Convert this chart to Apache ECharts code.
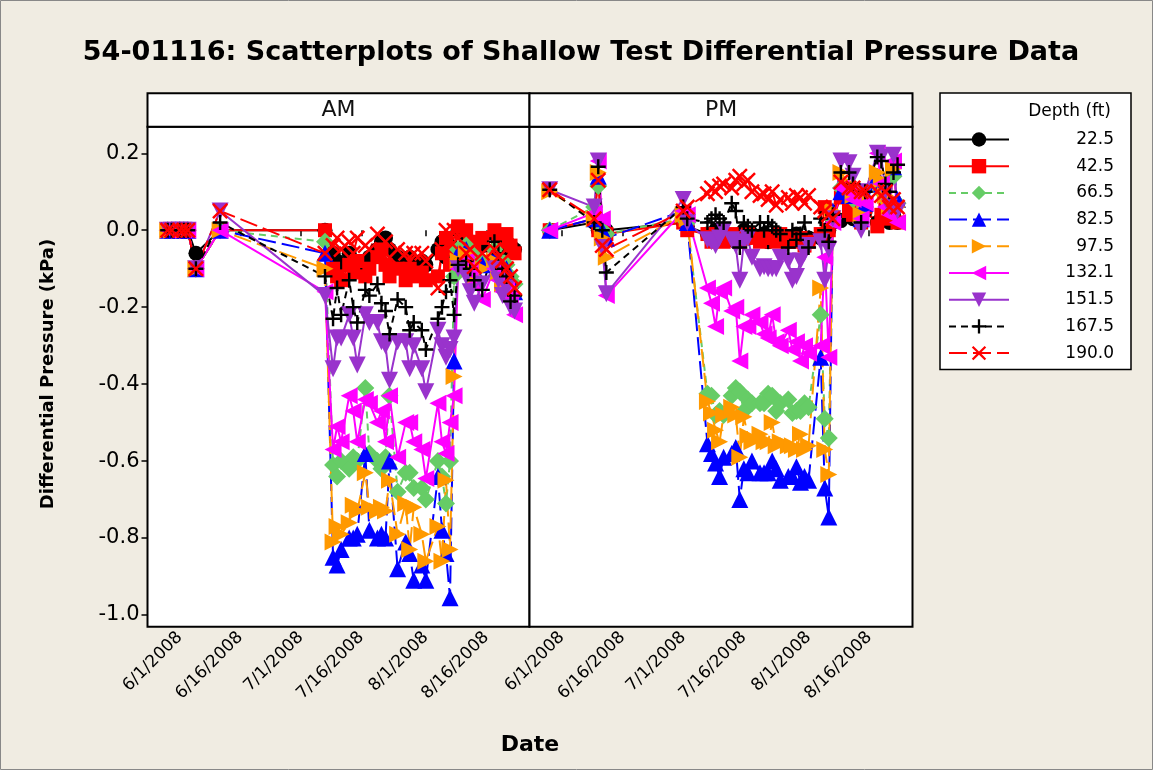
<!DOCTYPE html>
<html>
<head>
<meta charset="utf-8">
<title>54-01116 Scatterplots</title>
<script src="https://cdn.jsdelivr.net/npm/echarts@6/dist/echarts.min.js"></script>
<style>
  html, body { margin: 0; padding: 0; background: #f0ece2; }
  #chart { width: 1153px; height: 770px; }
</style>
</head>
<body>
<div id="chart"></div>
<script>
// measurement dates per session
const amDates = ['2008-05-29','2008-05-30','2008-06-01','2008-06-02','2008-06-03','2008-06-05','2008-06-11',
  '2008-07-07','2008-07-09','2008-07-10','2008-07-11','2008-07-13','2008-07-14','2008-07-15','2008-07-17','2008-07-18',
  '2008-07-20','2008-07-21','2008-07-22','2008-07-23','2008-07-25','2008-07-27','2008-07-28','2008-07-29','2008-07-31',
  '2008-08-01','2008-08-04','2008-08-05','2008-08-06','2008-08-07','2008-08-08','2008-08-09','2008-08-11','2008-08-12',
  '2008-08-13','2008-08-15','2008-08-18','2008-08-19','2008-08-20','2008-08-21','2008-08-22','2008-08-23']
const pmDates = ['2008-05-29','2008-06-09','2008-06-10','2008-06-11','2008-06-12','2008-07-01','2008-07-02',
  '2008-07-07','2008-07-08','2008-07-09','2008-07-10','2008-07-11','2008-07-13','2008-07-14','2008-07-15','2008-07-16',
  '2008-07-17','2008-07-18','2008-07-20','2008-07-21','2008-07-22','2008-07-23','2008-07-24','2008-07-25','2008-07-27',
  '2008-07-28','2008-07-29','2008-07-30','2008-07-31','2008-08-01','2008-08-04','2008-08-05','2008-08-06','2008-08-07',
  '2008-08-09','2008-08-11','2008-08-12','2008-08-14','2008-08-15','2008-08-18','2008-08-19','2008-08-20','2008-08-21',
  '2008-08-22','2008-08-23']

const tickDates = ['2008-06-01','2008-06-16','2008-07-01','2008-07-16','2008-08-01','2008-08-16']
const yTicks = [-1.0, -0.8, -0.6, -0.4, -0.2, 0.0, 0.2]
const depths = ['22.5','42.5','66.5','82.5','97.5','132.1','151.5','167.5','190.0']

// AM differential pressure (kPa)
const am225 = [0,0,0,0,0,-0.06,0,0,-0.06,-0.08,-0.09,-0.06,-0.08,-0.1,-0.09,-0.07,-0.05,-0.03,-0.02,-0.05,-0.07,-0.08,-0.07,-0.09,-0.08,-0.09,-0.05,-0.03,-0.07,-0.04,-0.06,0,-0.02,-0.03,-0.05,-0.04,-0.01,-0.03,-0.05,-0.03,-0.04,-0.05]
const am425 = [0,0,0,0,0,-0.1,0,0,-0.1,-0.12,-0.13,-0.09,-0.11,-0.08,-0.12,-0.1,-0.07,-0.05,-0.09,-0.12,-0.1,-0.13,-0.1,-0.12,-0.11,-0.13,-0.12,-0.06,-0.02,-0.09,-0.05,0.01,0,-0.03,-0.04,-0.02,0,-0.02,-0.03,-0.01,-0.04,-0.06]
const am665 = [0,0,0,0,0,-0.1,0,-0.03,-0.61,-0.64,-0.6,-0.62,-0.59,-0.6,-0.41,-0.58,-0.6,-0.62,-0.59,-0.43,-0.68,-0.63,-0.63,-0.67,-0.67,-0.7,-0.6,-0.64,-0.71,-0.6,-0.12,-0.05,-0.04,-0.09,-0.06,-0.08,-0.05,-0.07,-0.1,-0.09,-0.12,-0.14]
const am825 = [0,0,0,0,0,-0.1,0,-0.06,-0.85,-0.87,-0.83,-0.8,-0.8,-0.79,-0.58,-0.78,-0.8,-0.79,-0.8,-0.6,-0.88,-0.81,-0.84,-0.91,-0.87,-0.91,-0.64,-0.78,-0.84,-0.955,-0.34,-0.06,-0.05,-0.08,-0.1,-0.09,-0.07,-0.1,-0.12,-0.1,-0.13,-0.16]
const am975 = [0,0,0,0,0,-0.1,0,-0.1,-0.81,-0.77,-0.79,-0.76,-0.715,-0.73,-0.63,-0.72,-0.73,-0.72,-0.73,-0.65,-0.79,-0.71,-0.83,-0.72,-0.79,-0.86,-0.77,-0.86,-0.65,-0.83,-0.38,-0.08,-0.06,-0.1,-0.12,-0.1,-0.08,-0.11,-0.14,-0.12,-0.15,-0.17]
const am1321 = [0,0,0,0,0,-0.1,0,-0.16,-0.57,-0.51,-0.55,-0.43,-0.47,-0.55,-0.44,-0.45,-0.5,-0.47,-0.55,-0.43,-0.59,-0.5,-0.5,-0.55,-0.57,-0.645,-0.45,-0.55,-0.58,-0.5,-0.43,-0.1,-0.08,-0.11,-0.14,-0.18,-0.1,-0.13,-0.16,-0.15,-0.18,-0.22]
const am1515 = [0,0,0,0,0,-0.1,0.05,-0.17,-0.36,-0.28,-0.28,-0.22,-0.28,-0.35,-0.22,-0.24,-0.24,-0.29,-0.3,-0.39,-0.29,-0.29,-0.36,-0.3,-0.36,-0.42,-0.26,-0.3,-0.33,-0.31,-0.28,-0.1,-0.12,-0.16,-0.19,-0.14,-0.1,-0.13,-0.17,-0.15,-0.2,-0.21]
const am1675 = [0,0,0,0,0,-0.1,0.02,-0.12,-0.23,-0.15,-0.22,-0.13,-0.2,-0.24,-0.155,-0.17,-0.14,-0.19,-0.21,-0.27,-0.18,-0.2,-0.26,-0.24,-0.26,-0.31,-0.23,-0.2,-0.16,-0.13,-0.22,-0.09,-0.08,-0.1,-0.13,-0.155,-0.03,-0.06,-0.1,-0.12,-0.185,-0.17]
const am1900 = [0,0,0,0,0,-0.1,0.05,-0.06,-0.04,-0.02,-0.05,-0.03,-0.06,-0.02,-0.04,-0.05,-0.01,-0.06,-0.03,-0.07,-0.05,-0.06,-0.08,-0.06,-0.06,-0.08,-0.15,-0.05,0,-0.03,0,-0.02,-0.06,-0.05,-0.095,-0.06,-0.05,-0.07,-0.08,-0.1,-0.12,-0.15]

// PM differential pressure (kPa)
const pm225 = [0,0.02,0,0,0,0.02,0.01,-0.01,-0.02,0,-0.02,-0.01,-0.02,-0.03,-0.01,0,-0.02,-0.01,-0.02,-0.01,-0.03,-0.02,-0.01,-0.02,-0.03,-0.02,-0.01,-0.02,-0.03,-0.02,-0.02,-0.01,0,0.02,0.025,0.04,0.03,0.02,0.05,0.02,0.03,0.05,0.02,0.04,0.02]
const pm425 = [0,0.03,0,0,-0.01,0.02,0,-0.01,-0.03,-0.02,-0.02,-0.03,-0.01,-0.02,-0.03,-0.02,-0.01,-0.02,-0.03,-0.02,-0.02,-0.02,-0.03,-0.01,-0.03,-0.02,-0.03,-0.02,-0.04,-0.03,-0.01,0.06,0,0.03,0.085,0.05,0.04,0.02,0.06,0.01,0.04,0.06,0.03,0.07,0.02]
const pm665 = [0,0.06,0.115,0,-0.01,0.03,0.02,-0.425,-0.43,-0.48,-0.47,-0.48,-0.43,-0.41,-0.42,-0.47,-0.44,-0.45,-0.45,-0.45,-0.425,-0.43,-0.47,-0.45,-0.44,-0.475,-0.47,-0.47,-0.45,-0.46,-0.22,-0.49,-0.54,0.03,0.11,0.105,0.08,0.02,0.06,0.12,0.1,0.08,0.06,0.14,0.07]
const pm825 = [0,0.03,0.14,0,-0.02,0.05,0.02,-0.555,-0.58,-0.605,-0.64,-0.59,-0.58,-0.565,-0.7,-0.62,-0.63,-0.6,-0.63,-0.63,-0.63,-0.6,-0.62,-0.65,-0.64,-0.64,-0.615,-0.655,-0.64,-0.65,-0.33,-0.67,-0.745,0.05,0.1,0.09,0.1,0.03,0.07,0.14,0.12,0.1,0.07,0.165,0.08]
const pm975 = [0.1,0.03,0.15,-0.02,-0.07,0.04,0.03,-0.445,-0.475,-0.52,-0.55,-0.48,-0.46,-0.48,-0.59,-0.485,-0.535,-0.55,-0.53,-0.55,-0.55,-0.5,-0.56,-0.55,-0.56,-0.56,-0.57,-0.53,-0.57,-0.56,-0.15,-0.57,-0.635,0.05,0.15,0.12,0.09,0.04,0.08,0.15,0.13,0.09,0.06,0.16,0.06]
const pm1321 = [0,0.045,0.18,0.03,-0.17,0.05,0.04,-0.15,-0.19,-0.25,-0.16,-0.15,-0.21,-0.2,-0.34,-0.25,-0.25,-0.22,-0.24,-0.27,-0.28,-0.22,-0.29,-0.3,-0.26,-0.31,-0.29,-0.34,-0.3,-0.32,-0.3,-0.07,-0.33,0.02,0.11,0.1,0.08,0.03,0.07,0.2,0.12,0.06,0.04,0.18,0.02]
const pm1515 = [0.105,0.06,0.18,-0.045,-0.165,0.08,0.02,-0.025,-0.03,-0.04,-0.02,0,-0.025,-0.04,-0.13,-0.03,-0.02,-0.07,-0.1,-0.095,-0.1,-0.1,-0.1,-0.07,-0.08,-0.13,-0.12,-0.08,-0.06,-0.04,-0.03,-0.13,-0.05,0.03,0.18,0.175,0.14,0,0.1,0.2,0.19,0.1,0.06,0.195,0.05]
const pm1675 = [0.105,0.02,0.165,0,-0.11,0.06,0.03,0.02,0.03,0.04,0.03,0.02,0.07,0.05,-0.045,0.02,0.01,0,0.02,0,0.02,0.01,0,-0.01,-0.045,0,-0.025,-0.01,0.02,-0.045,0.03,0,-0.03,0.04,0.15,0.15,0.12,0.02,0.1,0.19,0.18,0.12,0.1,0.15,0.17]
const pm1900 = [0.105,0.03,0.13,-0.04,-0.05,0.05,0.06,0.095,0.11,0.1,0.115,0.12,0.11,0.13,0.14,0.12,0.13,0.1,0.09,0.095,0.08,0.1,0.065,0.08,0.085,0.07,0.09,0.085,0.07,0.09,0.06,0.05,0.04,0.03,0.125,0.11,0.11,0.1,0.1,0.1,0.09,0.1,0.06,0.08,0.06]

const amValues = [am225, am425, am665, am825, am975, am1321, am1515, am1675, am1900]
const pmValues = [pm225, pm425, pm665, pm825, pm975, pm1321, pm1515, pm1675, pm1900]

const plusPath = 'path://M4.2,0H5.8V4.2H10V5.8H5.8V10H4.2V5.8H0V4.2H4.2Z'
const crossPath = 'path://M0,1.1L1.1,0L5,3.9L8.9,0L10,1.1L6.1,5L10,8.9L8.9,10L5,6.1L1.1,10L0,8.9L3.9,5Z'
const styles = [
  { color: '#000000', symbol: 'circle', size: 15, dash: 'solid' },
  { color: '#ff0000', symbol: 'rect', size: 14, dash: 'solid' },
  { color: '#66cc66', symbol: 'diamond', size: 18, dash: [7, 5] },
  { color: '#0000ff', symbol: 'triangle', size: 17, dash: [18, 6] },
  { color: '#ff9900', symbol: 'triangle', size: 17, rotate: -90, dash: [18, 6] },
  { color: '#ff00ff', symbol: 'triangle', size: 17, rotate: 90, dash: 'solid' },
  { color: '#9933cc', symbol: 'triangle', size: 17, rotate: 180, dash: 'solid' },
  { color: '#000000', symbol: plusPath, size: 15, dash: [7, 5] },
  { color: '#ff0000', symbol: crossPath, size: 16, dash: [18, 6] },
]

function toTime(s) {
  const p = s.split('-').map(Number)
  return new Date(p[0], p[1] - 1, p[2]).getTime()
}
const DAY = 86400000
const xMin = toTime('2008-05-24')
const xMax = toTime('2008-08-26') + 0.7 * DAY
const tickVals = tickDates.map(toTime)

function fmtDate(v) {
  const d = new Date(v)
  return (d.getMonth() + 1) + '/' + d.getDate() + '/' + d.getFullYear()
}

function makeSeries(dates, values, idx, axis) {
  const s = styles[idx]
  return {
    name: depths[idx],
    type: 'line',
    xAxisIndex: axis,
    yAxisIndex: axis,
    data: dates.map((d, i) => [toTime(d), values[i]]),
    symbol: s.symbol,
    symbolSize: s.size,
    symbolRotate: s.rotate || 0,
    connectNulls: true,
    lineStyle: { color: s.color, width: 2, type: s.dash },
    itemStyle: { color: s.color },
    emphasis: { disabled: true },
  }
}

const font = '"DejaVu Sans", Verdana, sans-serif'
const gridTop = 126.7
const gridH = 500
const panels = [{ left: 147.5, width: 382, label: 'AM' }, { left: 529.5, width: 383, label: 'PM' }]

// dates are plotted on a numeric (timestamp) axis so that ticks can sit on custom dates
function xAxisFor(i) {
  return {
    type: 'value', gridIndex: i, min: xMin, max: xMax,
    axisLine: { show: false },
    splitLine: { show: false },
    axisTick: { show: true, customValues: tickVals, length: 6, lineStyle: { color: '#000', width: 1.5 } },
    axisLabel: { customValues: tickVals, formatter: fmtDate, rotate: 45, margin: 8,
      fontFamily: font, fontSize: 17, color: '#000' },
  }
}
function yAxisFor(i) {
  return {
    type: 'value', gridIndex: i, min: -1.0304, max: 0.269,
    axisLine: { show: false },
    splitLine: { show: false },
    axisTick: { show: i === 0, customValues: yTicks, length: 6, lineStyle: { color: '#000', width: 1.5 } },
    axisLabel: { show: i === 0, customValues: yTicks, formatter: v => v.toFixed(1), margin: 8,
      fontFamily: font, fontSize: 21, color: '#000' },
  }
}

const series = []
for (let k = 0; k < depths.length; k++) series.push(makeSeries(amDates, amValues[k], k, 0))
for (let k = 0; k < depths.length; k++) series.push(makeSeries(pmDates, pmValues[k], k, 1))

const strips = []
panels.forEach(p => {
  strips.push({ type: 'rect', shape: { x: p.left, y: 93.3, width: p.width, height: gridTop - 93.3 },
    style: { fill: '#fff', stroke: '#000', lineWidth: 2 } })
  strips.push({ type: 'text', x: p.left + p.width / 2, y: 110, style: { text: p.label, fill: '#111',
    font: '22px ' + font, textAlign: 'center', textVerticalAlign: 'middle' } })
})

const chart = echarts.init(document.getElementById('chart'))
chart.setOption({
  animation: false,
  backgroundColor: '#f0ece2',
  grid: panels.map(p => ({ left: p.left, top: gridTop, width: p.width, height: gridH, show: true,
    backgroundColor: '#fff', borderColor: '#000', borderWidth: 2 })),
  xAxis: [xAxisFor(0), xAxisFor(1)],
  yAxis: [yAxisFor(0), yAxisFor(1)],
  legend: {
    orient: 'vertical', left: 940, top: 93,
    padding: [38, 17, 8, 8],
    itemWidth: 60, itemHeight: 18, itemGap: 9.7,
    backgroundColor: '#fff', borderColor: '#000', borderWidth: 1.5,
    selectedMode: false,
    data: depths,
    formatter: n => '{v|' + n + '}',
    textStyle: { rich: { v: { width: 100, align: 'right', fontSize: 17, lineHeight: 18,
      fontFamily: font, color: '#000' } } },
  },
  graphic: [
    { type: 'rect', shape: { x: 0.5, y: 0.5, width: 1152, height: 769 }, style: { fill: 'none', stroke: '#888', lineWidth: 1 } },
    { type: 'text', x: 581, y: 53, style: { text: '54-01116: Scatterplots of Shallow Test Differential Pressure Data',
      font: 'bold 27px ' + font, fill: '#000', textAlign: 'center', textVerticalAlign: 'middle' } },
    { type: 'text', x: 48, y: 374, rotation: Math.PI / 2, style: { text: 'Differential Pressure (kPa)',
      font: 'bold 18px ' + font, fill: '#000', textAlign: 'center', textVerticalAlign: 'middle' } },
    { type: 'text', x: 530, y: 745, style: { text: 'Date', font: 'bold 22px ' + font, fill: '#000',
      textAlign: 'center', textVerticalAlign: 'middle' } },
    { type: 'text', x: 1111, y: 112, z: 100, style: { text: 'Depth (ft)', font: '17px ' + font, fill: '#000',
      textAlign: 'right', textVerticalAlign: 'middle' } },
  ].concat(strips),
  series: series,
})
window.addEventListener('resize', () => chart.resize())
</script>
</body>
</html>
